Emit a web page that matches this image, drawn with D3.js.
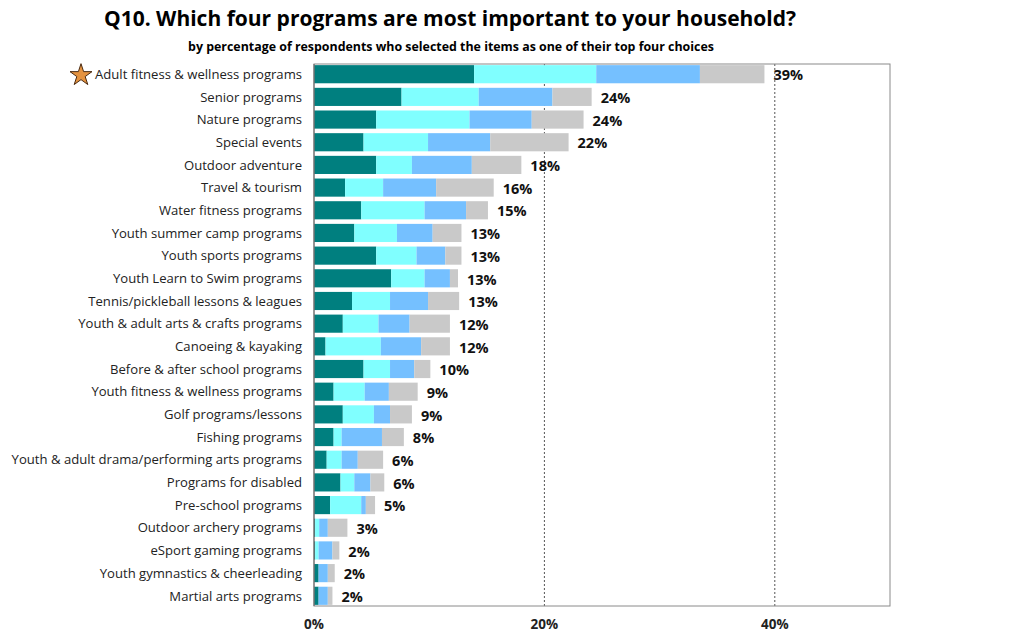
<!DOCTYPE html>
<html>
<head>
<meta charset="utf-8">
<script src="https://cdn.jsdelivr.net/npm/d3@7"></script>
<style>
  body { margin: 0; background: #fff; }
  text { font-family: "Open Sans", sans-serif; }
</style>
</head>
<body>
<div id="chart-area"></div>
<script>
var categories = [
  'Adult fitness & wellness programs', 'Senior programs', 'Nature programs',
  'Special events', 'Outdoor adventure', 'Travel & tourism', 'Water fitness programs',
  'Youth summer camp programs', 'Youth sports programs', 'Youth Learn to Swim programs',
  'Tennis/pickleball lessons & leagues', 'Youth & adult arts & crafts programs',
  'Canoeing & kayaking', 'Before & after school programs', 'Youth fitness & wellness programs',
  'Golf programs/lessons', 'Fishing programs', 'Youth & adult drama/performing arts programs',
  'Programs for disabled', 'Pre-school programs', 'Outdoor archery programs',
  'eSport gaming programs', 'Youth gymnastics & cheerleading', 'Martial arts programs'
];
// share of respondents per choice rank (percent)
var firstChoice  = [13.9, 7.6, 5.4, 4.3, 5.4, 2.7, 4.1, 3.5, 5.4, 6.7, 3.3, 2.5, 1.0, 4.3, 1.7, 2.5, 1.7, 1.1, 2.3, 1.4, 0.1, 0.1, 0.4, 0.4];
var secondChoice = [10.6, 6.7, 8.1, 5.6, 3.1, 3.3, 5.5, 3.7, 3.5, 2.9, 3.3, 3.1, 4.8, 2.3, 2.7, 2.7, 0.7, 1.3, 1.2, 2.7, 0.35, 0.3, 0.0, 0.0];
var thirdChoice  = [9.0, 6.4, 5.4, 5.4, 5.2, 4.6, 3.6, 3.1, 2.5, 2.2, 3.3, 2.7, 3.5, 2.1, 2.1, 1.4, 3.5, 1.4, 1.4, 0.4, 0.75, 1.2, 0.8, 0.8];
var fourthChoice = [5.6, 3.4, 4.5, 6.8, 4.3, 5.0, 1.9, 2.5, 1.4, 0.7, 2.7, 3.5, 2.5, 1.4, 2.5, 1.9, 1.9, 2.2, 1.2, 0.8, 1.7, 0.6, 0.6, 0.4];
var totalLabels  = ['39%','24%','24%','22%','18%','16%','15%','13%','13%','13%','13%','12%','12%','10%','9%','9%','8%','6%','6%','5%','3%','2%','2%','2%'];
var xTicks = [0, 20, 40];

var keys = ['first','second','third','fourth'];
var colors = ['#007f7f', '#80ffff', '#75c0ff', '#c9c9c9'];

var margin = { top: 64, right: 134, bottom: 31, left: 314 },
    width = 1024 - margin.left - margin.right,
    height = 637 - margin.top - margin.bottom;

var svg = d3.select('#chart-area').append('svg')
    .attr('width', 1024)
    .attr('height', 637);

var g = svg.append('g')
    .attr('transform', 'translate(' + margin.left + ',' + margin.top + ')');

var rows = categories.map(function(c, i){
  return { name: c, first: firstChoice[i], second: secondChoice[i],
           third: thirdChoice[i], fourth: fourthChoice[i], label: totalLabels[i] };
});

var x = d3.scaleLinear()
    .domain([0, 50])
    .range([0, width]);

var y = d3.scaleBand()
    .domain(categories)
    .range([0, height])
    .paddingInner(0.2)
    .paddingOuter(0.05);

var color = d3.scaleOrdinal().domain(keys).range(colors);

//title
svg.append('text')
  .attr('x', 450)
  .attr('y', 26)
  .attr('text-anchor', 'middle')
  .attr('font-size', '21px')
  .attr('font-weight', 'bold')
  .attr('fill', '#000')
  .text('Q10. Which four programs are most important to your household?');

svg.append('text')
  .attr('x', 451)
  .attr('y', 51)
  .attr('text-anchor', 'middle')
  .attr('font-size', '12.4px')
  .attr('font-weight', 'bold')
  .attr('fill', '#000')
  .text('by percentage of respondents who selected the items as one of their top four choices');

//gridlines
g.selectAll('.grid')
  .data(xTicks.slice(1))
  .enter().append('line')
    .attr('class', 'grid')
    .attr('x1', function(d){ return x(d); })
    .attr('x2', function(d){ return x(d); })
    .attr('y1', 0)
    .attr('y2', height)
    .attr('stroke', '#555')
    .attr('stroke-width', 1)
    .attr('stroke-dasharray', '2,2');

//stacked bars
var stack = d3.stack().keys(keys);
var series = stack(rows);

g.selectAll('.series')
  .data(series)
  .enter().append('g')
    .attr('class', 'series')
    .attr('fill', function(d){ return color(d.key); })
  .selectAll('rect')
  .data(function(d){ return d; })
  .enter().append('rect')
    .attr('x', function(d){ return x(d[0]); })
    .attr('y', function(d){ return y(d.data.name); })
    .attr('width', function(d){ return Math.max(0, x(d[1]) - x(d[0])); })
    .attr('height', y.bandwidth());

//frame
g.append('rect')
  .attr('x', 0)
  .attr('y', 0)
  .attr('width', width)
  .attr('height', height)
  .attr('fill', 'none')
  .attr('stroke', '#8a8a8a')
  .attr('stroke-width', 1);

g.append('line')
  .attr('x1', 0).attr('x2', 0)
  .attr('y1', 0).attr('y2', height)
  .attr('stroke', '#666');

//value labels
g.selectAll('.value')
  .data(rows)
  .enter().append('text')
    .attr('class', 'value')
    .attr('x', function(d){ return x(d.first + d.second + d.third + d.fourth) + 9; })
    .attr('y', function(d){ return y(d.name) + y.bandwidth() / 2 + 1; })
    .attr('dy', '0.36em')
    .attr('font-size', '14.5px')
    .attr('font-weight', 'bold')
    .attr('fill', '#111')
    .text(function(d){ return d.label; });

//category labels
g.selectAll('.cat')
  .data(categories)
  .enter().append('text')
    .attr('class', 'cat')
    .attr('x', -12)
    .attr('y', function(d){ return y(d) + y.bandwidth() / 2; })
    .attr('dy', '0.36em')
    .attr('text-anchor', 'end')
    .attr('font-size', '13.1px')
    .attr('fill', '#222')
    .text(function(d){ return d; });

//star marker on the top item
var star = d3.symbol().type(d3.symbolStar).size(150);
g.append('path')
  .attr('d', star())
  .attr('transform', 'translate(' + (81 - margin.left) + ',' + (y(categories[0]) + y.bandwidth() / 2 + 1) + ')')
  .attr('fill', '#e4923f')
  .attr('stroke', '#4a2a10')
  .attr('stroke-width', 1);

//x tick labels
g.selectAll('.tick-label')
  .data(xTicks)
  .enter().append('text')
    .attr('class', 'tick-label')
    .attr('x', function(d){ return x(d); })
    .attr('y', height + 23)
    .attr('text-anchor', 'middle')
    .attr('font-size', '13.5px')
    .attr('font-weight', 'bold')
    .attr('fill', '#222')
    .text(function(d){ return d + '%'; });
</script>
</body>
</html>
